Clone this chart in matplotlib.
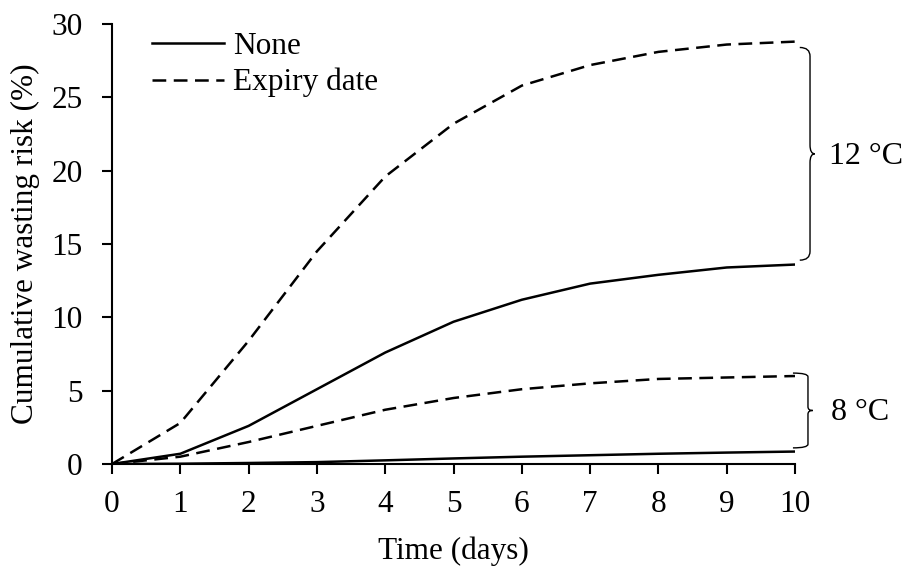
import matplotlib
matplotlib.use("Agg")
import matplotlib.pyplot as plt
from matplotlib.path import Path
from matplotlib.patches import PathPatch

plt.rcParams['font.family'] = ['Liberation Serif', 'DejaVu Serif']

days = [0, 1, 2, 3, 4, 5, 6, 7, 8, 9, 10]
none_12 = [0, 0.7, 2.6, 5.1, 7.6, 9.7, 11.2, 12.3, 12.9, 13.4, 13.6]
expiry_12 = [0, 2.8, 8.4, 14.5, 19.6, 23.2, 25.8, 27.2, 28.1, 28.6, 28.8]
none_8 = [0, 0.02, 0.07, 0.13, 0.25, 0.38, 0.5, 0.6, 0.7, 0.78, 0.85]
expiry_8 = [0, 0.5, 1.5, 2.6, 3.7, 4.5, 5.1, 5.5, 5.8, 5.9, 6.0]
x_ticks = list(range(0, 11))
y_ticks = [0, 5, 10, 15, 20, 25, 30]
labels = ["None", "Expiry date"]
temps = ["12 °C", "8 °C"]

FS = 22.5
fig = plt.figure(figsize=(9.16, 5.69), dpi=100)
ax = fig.add_axes([0.1223, 0.1845, 0.7456, 0.7733])

lw = 1.8
dash = [5.5, 3.0]
l1, = ax.plot(days, none_12, color='black', lw=lw, label=labels[0])
l2, = ax.plot(days, expiry_12, color='black', lw=lw, dashes=dash, label=labels[1])
ax.plot(days, none_8, color='black', lw=lw)
ax.plot(days, expiry_8, color='black', lw=lw, dashes=dash)

ax.set_xlim(0, 10)
ax.set_ylim(0, 30)
ax.set_xticks(x_ticks)
ax.set_yticks(y_ticks)
ax.spines['top'].set_visible(False)
ax.spines['right'].set_visible(False)
for s in ('left', 'bottom'):
    ax.spines[s].set_linewidth(1.5)
ax.tick_params(axis='both', direction='out', length=7, width=1.5, labelsize=FS)
ax.tick_params(axis='y', pad=14)
ax.tick_params(axis='x', pad=12)
ax.set_xlabel("Time (days)", fontsize=FS, labelpad=12)
ax.set_ylabel("Cumulative wasting risk (%)", fontsize=FS, labelpad=8)

ax.legend(handles=[l1, l2], loc='upper left', bbox_to_anchor=(0.04, 1.01),
          frameon=False, fontsize=FS, handlelength=2.3, handletextpad=0.3,
          labelspacing=0.22, borderaxespad=0)


def brace(ax, x0, ytop, ybot, w, xv, h):
    ymid = (ytop + ybot) / 2
    verts = [(x0, ytop), (xv, ytop), (xv, ytop - h),
             (xv, ymid + h),
             (xv, ymid), (x0 + w, ymid),
             (xv, ymid), (xv, ymid - h),
             (xv, ybot + h),
             (xv, ybot), (x0, ybot)]
    codes = [Path.MOVETO, Path.CURVE3, Path.CURVE3,
             Path.LINETO,
             Path.CURVE3, Path.CURVE3,
             Path.CURVE3, Path.CURVE3,
             Path.LINETO,
             Path.CURVE3, Path.CURVE3]
    p = PathPatch(Path(verts, codes), fill=False, lw=1.0, ec='black',
                  clip_on=False, transform=ax.transData)
    ax.add_patch(p)


brace(ax, 10.07, 28.4, 13.9, 0.22, 10.22, 0.6)
brace(ax, 9.97, 6.2, 1.1, 0.29, 10.19, 0.25)
ax.text(10.50, 21.0, temps[0], fontsize=23, va='center', ha='left', clip_on=False)
ax.text(10.53, 3.48, temps[1], fontsize=23, va='center', ha='left', clip_on=False)

fig.savefig("out.png", dpi=100)
